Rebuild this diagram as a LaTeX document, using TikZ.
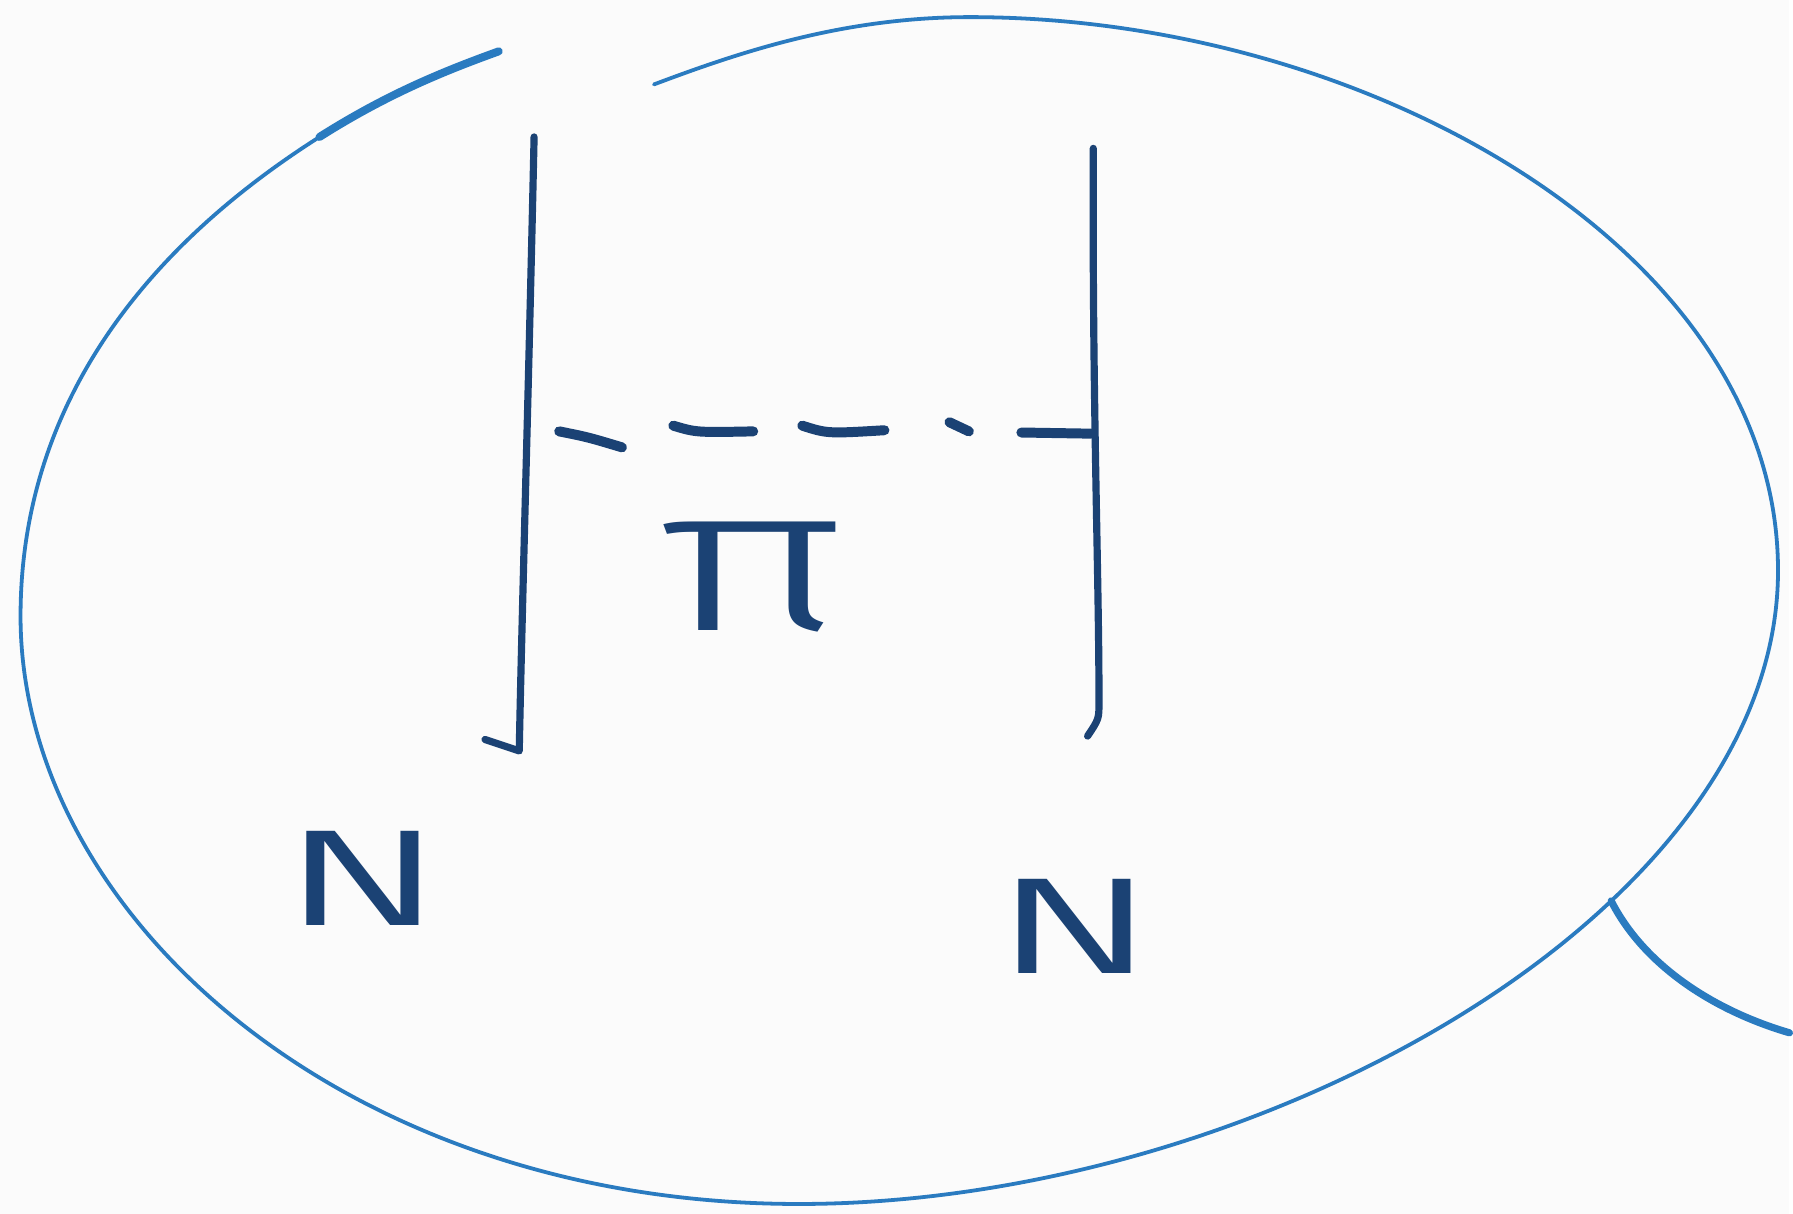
\documentclass[tikz,border=0pt]{standalone}
\usepackage{fontspec}
\newfontfamily\greekfont{Fira Sans Light}
\definecolor{bubble}{HTML}{2A7BC0}
\definecolor{ink}{HTML}{1B4274}
\definecolor{paper}{HTML}{FBFBFB}
\begin{document}
\begin{tikzpicture}[x=0.57175pt,y=-0.57175pt,
  outline/.style={bubble,line width=1.9pt,line cap=round,line join=round},
  pen/.style={ink,line width=3.6pt,line cap=round,line join=round},
  dash stroke/.style={pen,line width=5pt},
  label/.style={ink,inner sep=0pt}]
\fill[paper] (0,0) rectangle (1568,1063.4);

% speech bubble
\draw[outline] (573,74) .. controls (650,45) and (740,15) .. (850,15)
  .. controls (1200,15) and (1558,220) .. (1558,500)
  .. controls (1558,800) and (1100,1055) .. coordinate[pos=0.35] (tip) (700,1055)
  .. controls (300,1055) and (18,800) .. (18,540)
  .. controls (18,370) and (110,228) .. (280,120);
\draw[outline,line width=4pt] (280,120) .. controls (340,82) and (390,62) .. (437,45);
\coordinate (tailend) at (1568,905);
\draw[outline,line width=3.6pt] (tip) .. controls (1440,845) and (1500,885) .. (tailend);

\coordinate (ltop) at (468,120);
\coordinate (lbot) at (455,658);
\coordinate (ltick) at (425,648);
\coordinate (rtop) at (958,130);
\coordinate (rbot) at (963,615);
\coordinate (rtick) at (953,645);

\draw[pen] (ltop) .. controls (463,350) and (457,550) .. (lbot) -- (ltick);
\draw[pen] (rtop) .. controls (957,350) and (963,500) .. (rbot) .. controls (963,630) .. (rtick);

% dashed rung
\draw[dash stroke] (490,378) .. controls (515,383) .. (545,392);
\draw[dash stroke] (590,373) .. controls (610,379) .. (660,378);
\draw[dash stroke] (703,373) .. controls (725,380) .. (775,377);
\draw[dash stroke] (832,370) -- (849,378);
\draw[dash stroke] (895,379) -- (956,380);

\node[label,font=\greekfont\fontsize{104}{104}\selectfont,xscale=1.6] (pi) at (660,506) {π};
\node[label,font=\sffamily\fontsize{68}{68}\selectfont,xscale=1.7] (lN) at (318,770) {N};
\node[label,font=\sffamily\fontsize{68}{68}\selectfont,xscale=1.7] (rN) at (942,812) {N};
\end{tikzpicture}
\end{document}
